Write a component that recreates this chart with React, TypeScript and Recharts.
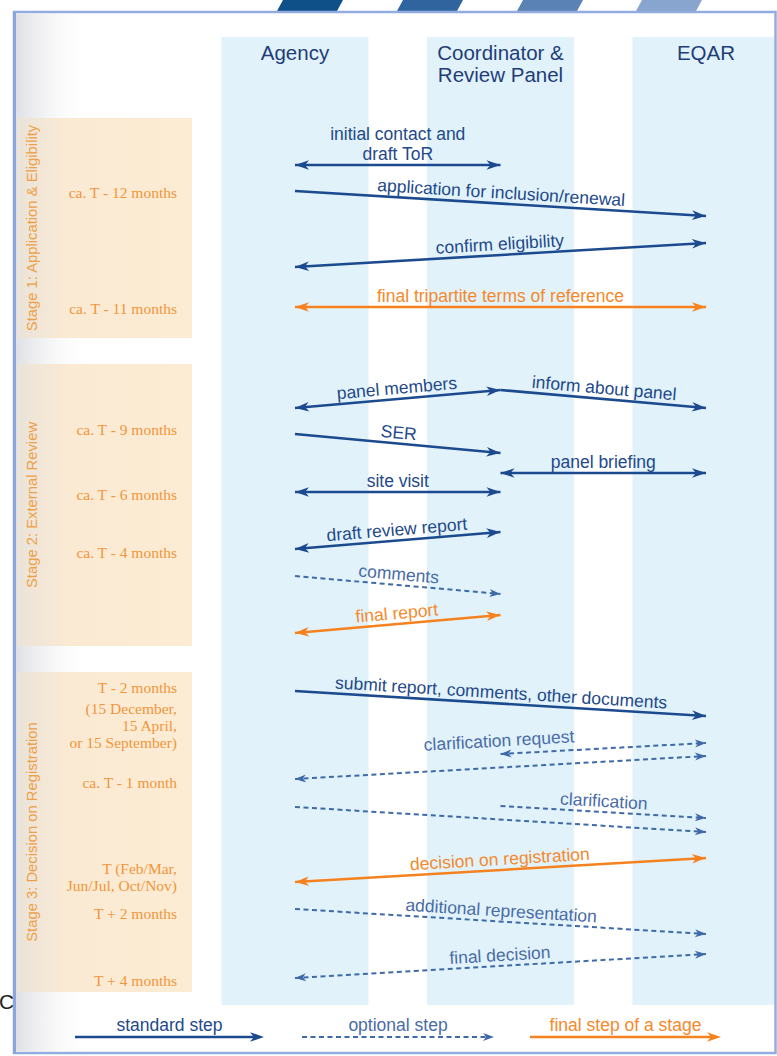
import React from "react";
import {
  ComposedChart, XAxis, YAxis, Line, Scatter, ReferenceArea, Customized,
} from "recharts";

// page / chart size
const W = 777;
const H = 1056;
// swimlane centres are 205.5px apart, first one at x=295
const COL_X0 = 295;
const COL_STEP = 205.5;
const X_MIN = -COL_X0 / COL_STEP;
const X_MAX = (W - COL_X0) / COL_STEP;
const pxToX = (p: number) => (p - COL_X0) / COL_STEP;
const LANE_HALF = 0.358;

const FONT = "'Liberation Sans', Arial, Helvetica, sans-serif";
const SERIF = "'Liberation Serif', 'Times New Roman', serif";

const BLUE = "#1c4a8e";
const BLUE_OPT = "#3f6aa8";
const ORANGE = "#f5821f";

type Kind = "std" | "opt" | "final";
type Heads = "end" | "both";
type Step = { label: string; from: number; to: number; y1: number; y2: number; kind: Kind; heads: Heads };

// lanes (0 = Agency, 1 = Coordinator & Review Panel, 2 = EQAR)
const actors = ["Agency", "Coordinator &\nReview Panel", "EQAR"];

const stageNames = [
  "Stage 1: Application & Eligibility",
  "Stage 2: External Review",
  "Stage 3: Decision on Registration",
];
const stageTop = [118, 364, 672];
const stageBottom = [338, 646, 992];

const timeLabels = [
  { text: "ca. T - 12 months", y: 192 },
  { text: "ca. T - 11 months", y: 308 },
  { text: "ca. T - 9 months", y: 429 },
  { text: "ca. T - 6 months", y: 494 },
  { text: "ca. T - 4 months", y: 552 },
  { text: "T - 2 months", y: 687 },
  { text: "(15 December,", y: 708 },
  { text: "15 April,", y: 725 },
  { text: "or 15 September)", y: 742 },
  { text: "ca. T - 1 month", y: 782 },
  { text: "T (Feb/Mar,", y: 868 },
  { text: "Jun/Jul, Oct/Nov)", y: 885 },
  { text: "T + 2 months", y: 913 },
  { text: "T + 4 months", y: 980 },
];

const stage1Steps: Step[] = [
  { label: "initial contact and\ndraft ToR", from: 0, to: 1, y1: 165, y2: 165, kind: "std", heads: "both" },
  { label: "application for inclusion/renewal", from: 0, to: 2, y1: 191, y2: 216, kind: "std", heads: "end" },
  { label: "confirm eligibility", from: 0, to: 2, y1: 267, y2: 243, kind: "std", heads: "both" },
  { label: "final tripartite terms of reference", from: 0, to: 2, y1: 307, y2: 307, kind: "final", heads: "both" },
];

const stage2Steps: Step[] = [
  { label: "panel members", from: 0, to: 1, y1: 408, y2: 390, kind: "std", heads: "both" },
  { label: "inform about panel", from: 1, to: 2, y1: 390, y2: 408, kind: "std", heads: "end" },
  { label: "SER", from: 0, to: 1, y1: 434, y2: 453, kind: "std", heads: "end" },
  { label: "panel briefing", from: 1, to: 2, y1: 473, y2: 473, kind: "std", heads: "both" },
  { label: "site visit", from: 0, to: 1, y1: 492, y2: 492, kind: "std", heads: "both" },
  { label: "draft review report", from: 0, to: 1, y1: 549, y2: 532, kind: "std", heads: "both" },
  { label: "comments", from: 0, to: 1, y1: 576, y2: 594, kind: "opt", heads: "end" },
  { label: "final report", from: 0, to: 1, y1: 633, y2: 615, kind: "final", heads: "both" },
];

const stage3Steps: Step[] = [
  { label: "submit report, comments, other documents", from: 0, to: 2, y1: 691, y2: 716, kind: "std", heads: "end" },
  { label: "", from: 1, to: 2, y1: 754, y2: 743, kind: "opt", heads: "both" },
  { label: "clarification request", from: 0, to: 2, y1: 779, y2: 756, kind: "opt", heads: "both" },
  { label: "clarification", from: 1, to: 2, y1: 806, y2: 818, kind: "opt", heads: "end" },
  { label: "", from: 0, to: 2, y1: 807, y2: 832, kind: "opt", heads: "end" },
  { label: "decision on registration", from: 0, to: 2, y1: 882, y2: 858, kind: "final", heads: "both" },
  { label: "additional representation", from: 0, to: 2, y1: 909, y2: 934, kind: "opt", heads: "end" },
  { label: "final decision", from: 0, to: 2, y1: 978, y2: 954, kind: "opt", heads: "both" },
];

const legendItems: { label: string; kind: Kind }[] = [
  { label: "standard step", kind: "std" },
  { label: "optional step", kind: "opt" },
  { label: "final step of a stage", kind: "final" },
];

const allSteps = [...stage1Steps, ...stage2Steps, ...stage3Steps];

const strokeOf = (k: Kind) => (k === "final" ? ORANGE : k === "opt" ? BLUE_OPT : BLUE);
const textOf = (k: Kind) => (k === "final" ? "#f5892a" : k === "opt" ? "#4a6ca6" : "#23498a");

// label sits this far above its line (one needs more room)
const labelLift: Record<string, number> = { "clarification request": 27 };

function arrowHead(tx: number, ty: number, ux: number, uy: number, kind: Kind, key: string) {
  const L = kind === "opt" ? 11 : 14;
  const hw = kind === "opt" ? 4 : 4.8;
  const bx = tx - ux * L, by = ty - uy * L;
  const nx = -uy, ny = ux;
  const mx = tx - ux * L * 0.72, my = ty - uy * L * 0.72;
  const d = `M${tx},${ty} L${bx + nx * hw},${by + ny * hw} L${mx},${my} L${bx - nx * hw},${by - ny * hw} Z`;
  return <path key={key} d={d} fill={strokeOf(kind)} stroke="none" />;
}

const makeDot = (step: Step) => (props: any) => {
  const { cx, cy, index, points } = props;
  const other = points && points[1 - index];
  if (!other) return <g key={`d-${index}`} />;
  const dx = cx - other.x, dy = cy - other.y;
  const len = Math.hypot(dx, dy) || 1;
  const parts: React.ReactNode[] = [];
  if (index === 1 || step.heads === "both") {
    parts.push(arrowHead(cx, cy, dx / len, dy / len, step.kind, "h"));
  }
  if (index === 0 && step.label) {
    const a = points[0].x <= points[1].x ? points[0] : points[1];
    const b = points[0].x <= points[1].x ? points[1] : points[0];
    const lx = b.x - a.x, ly = b.y - a.y;
    const l = Math.hypot(lx, ly) || 1;
    const ux = lx / l, uy = ly / l;
    const nx = uy, ny = -ux; // points upward
    const mx = (a.x + b.x) / 2, my = (a.y + b.y) / 2;
    const angle = (Math.atan2(ly, lx) * 180) / Math.PI;
    const lines = step.label.split("\n");
    const lift = labelLift[step.label] ?? 11;
    lines.forEach((t, i) => {
      const off = lift + (lines.length - 1 - i) * 20;
      const x = mx + nx * off, y = my + ny * off;
      parts.push(
        <text key={`t${i}`} x={x} y={y} transform={`rotate(${angle} ${x} ${y})`}
          textAnchor="middle" dominantBaseline="central"
          fontFamily={FONT} fontSize={17.5} fill={textOf(step.kind)}>{t}</text>
      );
    });
  }
  return <g key={`d-${index}`}>{parts}</g>;
};

const headerLabel = (name: string) => (p: any) => {
  const vb = p.viewBox || {};
  const cx = vb.x + LANE_HALF * COL_STEP;
  return (
    <g>
      {name.split("\n").map((t, i) => (
        <text key={i} x={cx} y={vb.y + 15 + i * 22} textAnchor="middle" dominantBaseline="central"
          fontFamily={FONT} fontSize={20.5} fill="#1f3d78">{t}</text>
      ))}
    </g>
  );
};

const stageLabel = (name: string) => (p: any) => {
  const vb = p.viewBox || {};
  const x = 32;
  const y = vb.y + vb.height / 2;
  return (
    <text x={x} y={y} transform={`rotate(-90 ${x} ${y})`} textAnchor="middle" dominantBaseline="central"
      fontFamily={FONT} fontSize={14.8} fill="#eea047">{name}</text>
  );
};

const TimeText = (props: any) => {
  const { cx, cy, payload } = props;
  return (
    <text x={cx} y={cy} textAnchor="end" dominantBaseline="central"
      fontFamily={SERIF} fontSize={15.5} fill="#f2953a">{payload.text}</text>
  );
};

const LegendArrows = () => {
  const spans = [[75, 264], [302, 494], [530, 721]];
  return (
    <g>
      {legendItems.map((it, i) => {
        const [x1, x2] = spans[i];
        const y = 1037;
        return (
          <g key={it.label}>
            <line x1={x1} y1={y} x2={x2 - 8} y2={y} stroke={strokeOf(it.kind)}
              strokeWidth={it.kind === "opt" ? 2 : 2.6} strokeDasharray={it.kind === "opt" ? "5 3.5" : undefined} />
            {arrowHead(x2, y, 1, 0, it.kind, "h")}
            <text x={(x1 + x2) / 2} y={1025} textAnchor="middle" dominantBaseline="central"
              fontFamily={FONT} fontSize={17.5} fill={textOf(it.kind)}>{it.label}</text>
          </g>
        );
      })}
    </g>
  );
};

const stripes = [
  { x: 277, fill: "#0f5088" },
  { x: 397, fill: "#30649f" },
  { x: 517, fill: "#5a82b5" },
  { x: 636, fill: "#87a5cf" },
];

function Backdrop() {
  return (
    <svg width={W} height={H} style={{ position: "absolute", left: 0, top: 0 }}>
      <defs>
        <linearGradient id="edgeGrad" x1="0" x2="1" y1="0" y2="0">
          <stop offset="0" stopColor="#dfe0e4" />
          <stop offset="1" stopColor="#ffffff" stopOpacity={0} />
        </linearGradient>
        <linearGradient id="stageGrad" x1="0" x2="1" y1="0" y2="0">
          <stop offset="0" stopColor="#ebe3d9" />
          <stop offset="0.3" stopColor="#fbead3" />
          <stop offset="1" stopColor="#fdecd4" />
        </linearGradient>
      </defs>
      <rect x={0} y={0} width={W} height={H} fill="#ffffff" />
      <text x={-1} y={1009} fontFamily={FONT} fontSize={21} fill="#222">Co</text>
      {stripes.map((s) => (
        <polygon key={s.x} points={`${s.x},11 ${s.x + 6},0 ${s.x + 66},0 ${s.x + 60},11`} fill={s.fill} />
      ))}
      <rect x={14} y={12} width={761.5} height={1041} fill="#ffffff" stroke="#93acdf" strokeWidth={2.5} />
      <rect x={15.5} y={13.5} width={78} height={1038} fill="url(#edgeGrad)" />
      <rect x={13} y={12} width={3} height={1042} fill="#8aa6dd" />
    </svg>
  );
}

export default function App() {
  return (
    <div style={{ position: "absolute", left: 0, top: 0, width: W, height: H }}>
      <Backdrop />
      <div style={{ position: "absolute", left: 0, top: 0 }}>
        <ComposedChart width={W} height={H} margin={{ top: 0, right: 0, bottom: 0, left: 0 }}>
          <XAxis type="number" dataKey="x" domain={[X_MIN, X_MAX]} hide allowDataOverflow />
          <YAxis type="number" dataKey="y" domain={[0, H]} reversed hide allowDataOverflow />
          {actors.map((a, i) => (
            <ReferenceArea key={a} x1={i - LANE_HALF} x2={Math.min(i + LANE_HALF, pxToX(774))} y1={37} y2={1005}
              fill="#e1f2fb" fillOpacity={1} stroke="none" label={headerLabel(a)} />
          ))}
          {stageNames.map((s, i) => (
            <ReferenceArea key={s} x1={pxToX(17)} x2={pxToX(192)} y1={stageTop[i]} y2={stageBottom[i]}
              fill="url(#stageGrad)" fillOpacity={1} stroke="none" label={stageLabel(s)} />
          ))}
          <Scatter data={timeLabels.map((t) => ({ x: pxToX(177), y: t.y, text: t.text }))}
            shape={TimeText} isAnimationActive={false} legendType="none" />
          {allSteps.map((s, i) => (
            <Line key={i}
              data={[{ x: s.from, y: s.y1 }, { x: s.to, y: s.y2 }]}
              dataKey="y" type="linear"
              stroke={strokeOf(s.kind)}
              strokeWidth={s.kind === "opt" ? 2 : 2.6}
              strokeDasharray={s.kind === "opt" ? "5 3.5" : undefined}
              dot={makeDot(s)} activeDot={false}
              isAnimationActive={false} legendType="none" />
          ))}
          <Customized component={<LegendArrows />} />
        </ComposedChart>
      </div>
    </div>
  );
}
